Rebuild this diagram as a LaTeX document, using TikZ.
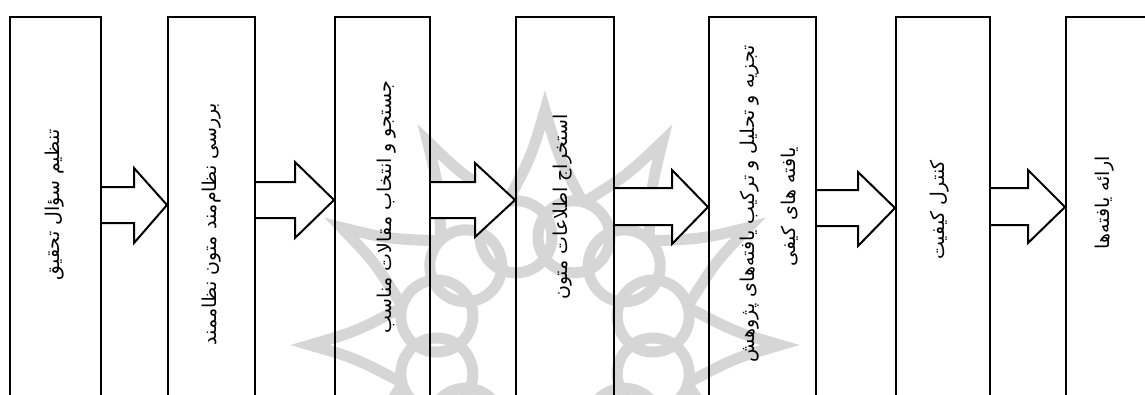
\documentclass[tikz,border=0pt]{standalone}
\usepackage{fontspec}
\TeXXeTstate=1
\newfontfamily\fa[Script=Arabic]{DejaVu Sans}
\usetikzlibrary{calc}
\tikzset{
  box/.style={draw=black, line width=2pt, fill=none, minimum height=420pt, anchor=north, inner sep=0pt},
  txt/.style={rotate=90, inner sep=0pt, font=\fa\fontsize{19}{22}\selectfont},
  blk/.style={draw=black, line width=2pt, fill=white, line join=miter},
  wm/.style={draw=black!16, line width=11pt, line cap=round}
}
% #1 from node, #2 to node, #3 tip y, #4 head start x, #5 shaft top y, #6 shaft bottom y, #7 head top y, #8 head bottom y
\newcommand\blockarrow[8]{%
  \draw[blk] let \p1=(#1.east), \p2=(#2.west) in
    (\x1,-#5pt) -- (#4pt,-#5pt) -- (#4pt,-#7pt) -- (\x2,-#3pt) -- (#4pt,-#8pt) -- (#4pt,-#6pt) -- (\x1,-#6pt);}
\begin{document}
\begin{tikzpicture}[x=1pt,y=-1pt]
\useasboundingbox (0,0) rectangle (1145,394);
\clip (0,0) rectangle (1145,394);
\fill[white] (0,0) rectangle (1145,394);
% watermark
\coordinate (C) at (545,345);
\begin{scope}[wm]
  \foreach \a in {0,30,...,330} {
    \draw ($(C)+(\a-14:150)$) .. controls ($(C)+(\a-4:190)$) .. ($(C)+(\a:235)$)
          .. controls ($(C)+(\a+4:190)$) .. ($(C)+(\a+14:150)$);
    \draw ($(C)+(\a+15:112)$) circle (36);
  }
\end{scope}
% boxes
\node[box, minimum width=91pt] (b1) at (55.5,16) {};
\node[box, minimum width=87pt] (b2) at (211.5,16) {};
\node[box, minimum width=95pt] (b3) at (382.5,16) {};
\node[box, minimum width=98pt] (b4) at (565,16) {};
\node[box, minimum width=107pt] (b5) at (762.5,16) {};
\node[box, minimum width=94pt] (b6) at (943,16) {};
\node[box, minimum width=94pt] (b7) at (1113,16) {};
% arrows
\blockarrow{b1}{b2}{205}{134}{187}{223}{168}{243}
\blockarrow{b2}{b3}{200}{295}{182}{218}{162}{238}
\blockarrow{b3}{b4}{200}{475}{182}{218}{163}{237}
\blockarrow{b4}{b5}{207}{672}{188}{225}{170}{244}
\blockarrow{b5}{b6}{208}{858}{190}{226}{172}{246}
\blockarrow{b6}{b7}{207}{1028}{188}{225}{170}{243}
% texts
\node[txt] (t1) at (55,205) {\beginR تنظیم سؤال تحقیق\endR};
\node[txt] (t2) at (212,224) {\beginR بررسی نظام‌مند متون نظاممند\endR};
\node[txt] (t3) at (387,207) {\beginR جستجو و انتخاب مقالات مناسب\endR};
\node[txt] (t4) at (563,207) {\beginR استخراج اطلاعات متون\endR};
\node[txt] (t5a) at (750,204) {\beginR تجزیه و تحلیل و ترکیب یافته‌های پژوهش\endR};
\node[txt] (t5b) at (790,207) {\beginR یافته های کیفی\endR};
\node[txt] (t6) at (940,210) {\beginR کنترل کیفیت\endR};
\node[txt] (t7) at (1105,203) {\beginR ارائه یافته‌ها\endR};
\end{tikzpicture}
\end{document}
